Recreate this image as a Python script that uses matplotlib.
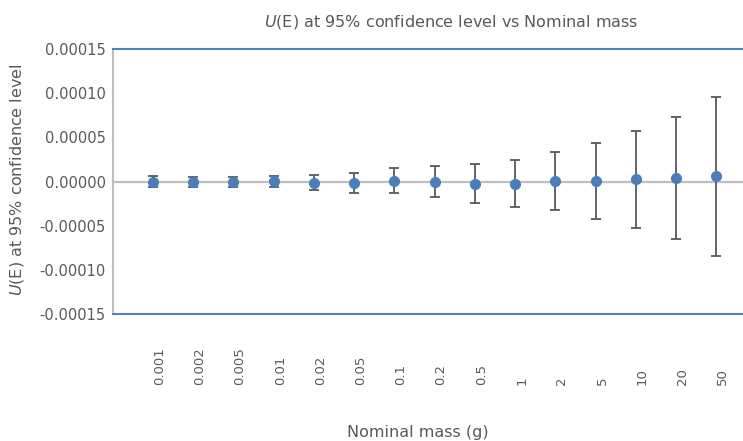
import numpy as np
import matplotlib
matplotlib.use('Agg')
import matplotlib.pyplot as plt

# nominal mass categories (g)
masses = ['0.001', '0.002', '0.005', '0.01', '0.02', '0.05', '0.1', '0.2',
          '0.5', '1', '2', '5', '10', '20', '50']
# error of each mass
errors = [0.0, -0.8e-6, -0.8e-6, 0.3e-6, -1.5e-6, -1.5e-6, 1.1e-6, 0.0,
          -2.3e-6, -2.3e-6, 0.8e-6, 1.1e-6, 2.3e-6, 3.8e-6, 5.7e-6]
# expanded uncertainty U(E), 95% level
uncert = [6.0e-6, 5.7e-6, 5.5e-6, 6.0e-6, 8.5e-6, 1.13e-5, 1.4e-5, 1.7e-5,
          2.2e-5, 2.7e-5, 3.3e-5, 4.3e-5, 5.5e-5, 6.9e-5, 9.0e-5]
yticks = [-0.00015, -0.0001, -0.00005, 0.0, 0.00005, 0.0001, 0.00015]

text_grey = '#595959'
axis_grey = '#BFBFBF'
blue_line = '#4F81C7'
marker_blue = '#4A7EBB'

plt.rcParams['font.family'] = ['DejaVu Sans']

fig = plt.figure(figsize=(7.43, 4.41), dpi=100)
ax = fig.add_axes([112.7 / 743, 1 - 314 / 441, 1 - 112.7 / 743, (314 - 49) / 441])

x = np.arange(1, len(masses) + 1)
ax.axhline(0, color=axis_grey, lw=1.6, zorder=1)
ax.errorbar(x, errors, yerr=uncert, fmt='o', color=marker_blue, ms=7,
            ecolor='#595959', elinewidth=1.3, capsize=3.3, capthick=1.3, zorder=3)

ax.set_xlim(0, (743 - 112.7) / 40.24)
ax.set_ylim(-0.00015, 0.00015)

ax.set_yticks(yticks)
ax.set_yticklabels([f'{v:.5f}' for v in yticks])
ax.set_xticks(x)
ax.set_xticklabels(masses, rotation=90, ha='left', va='bottom')
ax.tick_params(axis='x', length=0, pad=51, labelsize=9.5, colors=text_grey)
ax.tick_params(axis='y', length=0, pad=5, labelsize=10.5, colors=text_grey)

ax.spines['right'].set_visible(False)
ax.spines['left'].set_color(axis_grey)
ax.spines['left'].set_linewidth(1.5)
for side in ['top', 'bottom']:
    ax.spines[side].set_color(blue_line)
    ax.spines[side].set_linewidth(1.5)

fig.text(451 / 743, 1 - 22 / 441, r'$\mathit{U}$(E) at 95% confidence level vs Nominal mass',
         ha='center', va='center', fontsize=11.5, color=text_grey)
fig.text(17 / 743, 1 - 180 / 441, r'$\mathit{U}$(E) at 95% confidence level',
         ha='center', va='center', rotation=90, fontsize=11.5, color=text_grey)
fig.text(418 / 743, 1 - 433 / 441, 'Nominal mass (g)',
         ha='center', va='center', fontsize=11.5, color=text_grey)

plt.savefig('out.png', dpi=100)
